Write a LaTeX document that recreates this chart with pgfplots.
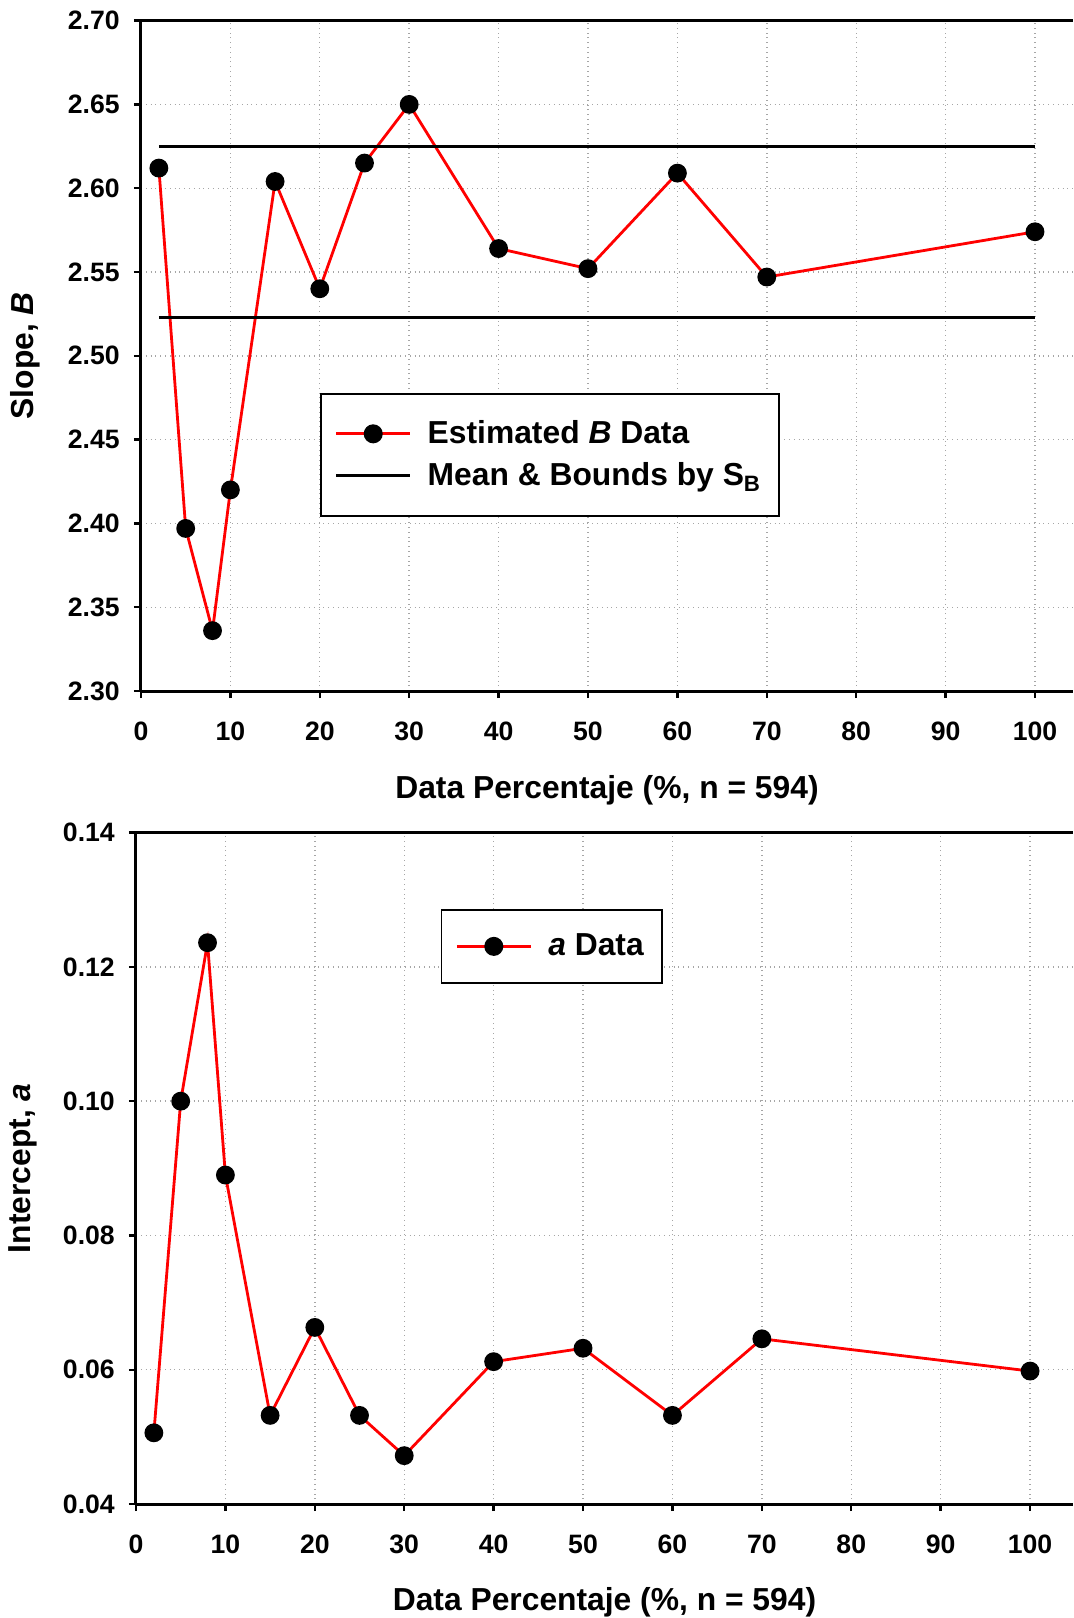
\documentclass[border=0pt]{standalone}
\usepackage{fontspec}
\setmainfont{Liberation Sans}
\usepackage{pgfplots}
\pgfplotsset{compat=1.18}
\pgfplotsset{
  mystyle/.style={
    scale only axis,
    axis x line*=box, axis y line*=left,
    axis line style={line width=1.5pt, -},
    tick align=outside,
    xtick pos=lower, ytick pos=left,
    major tick length=3.5pt,
    tick style={line width=1.2pt, black},
    grid=major,
    major grid style={gray!70, dotted, line width=0.7pt},
    xmin=0, xtick={0,10,...,100},
    /pgf/number format/assume math mode=true,
    ticklabel style={font=\fontsize{13.3}{15}\selectfont\bfseries},
    xticklabel style={yshift=-8.2pt},
    yticklabel style={xshift=-3.6pt},
    legend style={font=\fontsize{15.9}{19}\selectfont\bfseries, draw=black, line width=0.8pt, inner xsep=7pt, inner ysep=11.5pt, row sep=4pt, column sep=6pt},
    legend cell align=left,
    legend image post style={line width=1.5pt},
  },
  legend image code/.code={
    \draw[mark repeat=2,mark phase=2] plot coordinates {(0cm,0cm) (0.65cm,0cm) (1.3cm,0cm)};
  },
}
\begin{document}
\begin{tikzpicture}
\useasboundingbox (-70.5pt,-463.5pt) rectangle (466pt,345.5pt);
\clip (-70.5pt,-463.5pt) rectangle (466pt,345.5pt);
\begin{axis}[mystyle,
  at={(0pt,0pt)}, anchor=south west,
  width=466pt, height=335.2pt,
  xmax=104.25, ymin=2.30, ymax=2.70,
  ytick={2.30,2.35,...,2.71},
  yticklabel style={/pgf/number format/.cd, fixed, fixed zerofill, precision=2},
  xlabel={Data Percentaje (\%, n = 594)},
  ylabel={Slope, \textit{B}},
  every axis x label/.style={at={(axis description cs:0.5,0)}, anchor=center, yshift=-49.5pt, font=\fontsize{15.9}{18}\selectfont\bfseries},
  every axis y label/.style={at={(axis description cs:-0.1245,0.5)}, anchor=center, rotate=90, font=\fontsize{15.9}{18}\selectfont\bfseries},
  legend style={at={(axis description cs:0.192,0.4445)}, anchor=north west},
]
\addplot[red, line width=1.4pt, mark=*, mark size=4pt, mark options={fill=black, draw=black}]
coordinates {(2,2.612) (5,2.397) (8,2.336) (10,2.420) (15,2.604) (20,2.540) (25,2.615) (30,2.650) (40,2.564) (50,2.552) (60,2.609) (70,2.547) (100,2.574)};
\addlegendentry{Estimated \textit{B} Data}
\addplot[black, line width=1.5pt] coordinates {(2,2.625) (100,2.625)};
\addlegendentry{Mean \& Bounds by S\textsubscript{B}}
\addplot[black, line width=1.5pt, forget plot] coordinates {(2,2.523) (100,2.523)};
\end{axis}
\begin{axis}[mystyle,
  at={(-2.5pt,-70.8pt)}, anchor=north west,
  width=468.5pt, height=335.7pt,
  xmax=104.8, ymin=0.04, ymax=0.14,
  ytick={0.04,0.06,...,0.141},
  yticklabel style={/pgf/number format/.cd, fixed, fixed zerofill, precision=2},
  xlabel={Data Percentaje (\%, n = 594)},
  ylabel={Intercept, \textit{a}},
  every axis x label/.style={at={(axis description cs:0.5,0)}, anchor=center, yshift=-49pt, font=\fontsize{15.9}{18}\selectfont\bfseries},
  every axis y label/.style={at={(axis description cs:-0.1206,0.5)}, anchor=center, rotate=90, font=\fontsize{15.9}{18}\selectfont\bfseries},
  legend style={at={(axis description cs:0.325,0.886)}, anchor=north west, inner ysep=10pt},
]
\addplot[red, line width=1.4pt, mark=*, mark size=4pt, mark options={fill=black, draw=black}]
coordinates {(2,0.0506) (5,0.1000) (8,0.1236) (10,0.0890) (15,0.0532) (20,0.0663) (25,0.0532) (30,0.0472) (40,0.0612) (50,0.0632) (60,0.0532) (70,0.0646) (100,0.0598)};
\addlegendentry{\textit{a} Data}
\end{axis}
\end{tikzpicture}
\end{document}
